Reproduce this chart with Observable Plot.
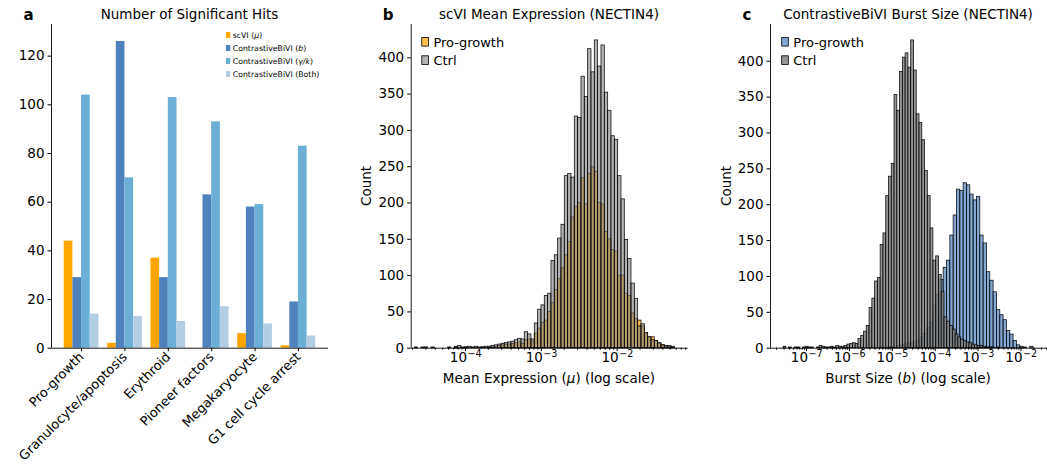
<!DOCTYPE html>
<html><head><meta charset="utf-8">
<script src="https://cdn.jsdelivr.net/npm/d3@7"></script>
<script src="https://cdn.jsdelivr.net/npm/@observablehq/plot@0.6"></script>
<style>
body{margin:0;background:#fff;font-family:"DejaVu Sans",sans-serif;}
#root{position:relative;width:1047px;height:469px;overflow:hidden;background:#fff;}
.panel{position:absolute;top:0;}
#overlay{position:absolute;left:0;top:0;pointer-events:none;}
</style></head>
<body><div id="root"></div>
<script>
// ---------- Panel a data ----------
const categories = ["Pro-growth","Granulocyte/apoptosis","Erythroid","Pioneer factors","Megakaryocyte","G1 cell cycle arrest"];
const seriesNames = ["scVI (μ)","ContrastiveBiVI (b)","ContrastiveBiVI (γ/k)","ContrastiveBiVI (Both)"];
const seriesColors = ["#ffa500","#4f81bd","#6baed6","#b3cde3"];
const hitsScvi     = [44, 2, 37, 0, 6, 1];
const hitsBiviB    = [29, 126, 29, 63, 58, 19];
const hitsBiviGk   = [104, 70, 103, 93, 59, 83];
const hitsBiviBoth = [14, 13, 11, 17, 10, 5];
const yTicksA = [0, 20, 40, 60, 80, 100, 120];

// ---------- Panel b data (log10 bin start, log10 bin width, counts) ----------
const binStartB = -4.669, binWidthB = 0.04397;
const countsProB = [0,0,0,0,0,0,0,0,0,0,0,0,1,0,0,1,0,0,0,0,1,0,1,1,2,3,4,5,5,6,7,8,
  6,11,12,9,20,27,35,38,50,62,80,95,110,128,146,180,195,200,234,198,240,249,243,200,198,160,150,135,133,100,100,75,72,48,40,38,
  30,20,15,15,10,6,4,2,2,1];
const countsCtrlB = [1,0,1,1,0,1,0,0,0,0,1,0,2,3,1,1,2,1,2,1,1,2,2,3,4,5,6,7,8,9,11,13,
  12,22,19,12,34,53,59,72,75,120,128,151,170,237,240,235,319,317,374,346,412,380,424,388,417,352,327,292,287,237,205,149,123,89,68,30,
  33,21,15,11,10,7,4,3,3,2];

// ---------- Panel c data ----------
const binStartCtrlC = -7.5356, binWidthCtrlC = 0.0647;
const countsCtrlC = [2,0,1,0,1,1,0,1,2,1,1,0,1,3,2,1,1,2,1,3,2,2,3,5,
  6,7,6,13,17,23,31,56,69,93,98,144,160,212,
  239,257,353,331,385,405,411,391,429,
  387,326,314,290,247,212,167,122,128,102,78,43,37,31,26,19,15,12,10,8,7,5,4,3,3,2,1,1,1,0,1];
const binStartProC = -5.2767, binWidthProC = 0.0776;
const countsProC = [1,0,1,2,2,3,4,5,6,8,8,10,14,20,28,36,59,75,95,112,122,157,185,221,219,230,227,214,206,211,
  157,146,106,94,78,53,46,39,24,19,10,4,2,1,0,2,0];
const yTicksHist = [0, 50, 100, 150, 200, 250, 300, 350, 400];
const majorB = [-4, -3, -2];
const majorC = [-7, -6, -5, -4, -3, -2];

// ---------- helpers ----------
const H = 469, MT = 24, MB = 469 - 347.7;
const FS = 13.5;
const FONT = {fontFamily: "DejaVu Sans", fontSize: FS + "px", background: "transparent", overflow: "visible", color: "black"};
const minorTicks = (lo, hi) => { const t = []; for (let e = lo; e <= hi; e++) for (let m = 2; m <= 9; m++) t.push(m * 10 ** e); return t; };
const toBins = (start, w, counts) => counts.map((c, i) => ({x1: 10 ** (start + i * w), x2: 10 ** (start + (i + 1) * w), count: c})).filter(d => d.count > 0);
const spine = {stroke: "black", strokeWidth: 0.9};
// log axis: minor ticks, major ticks, and "10" + superscript exponent labels
function logAxis(exps, lo, hi) {
  const majors = exps.map(e => ({v: 10 ** e, e}));
  return [
    Plot.axisX({ticks: minorTicks(Math.floor(Math.log10(lo)), Math.ceil(Math.log10(hi))).filter(v => v > lo && v < hi), tickSize: 2, tickFormat: () => "", label: null}),
    Plot.axisX({ticks: majors.map(d => d.v), tickSize: 3.5, tickFormat: () => "", label: null}),
    Plot.text(majors, {x: "v", text: () => "10", frameAnchor: "bottom", dy: 13.6, dx: 1.5, textAnchor: "end", fontSize: FS}),
    Plot.text(majors, {x: "v", text: d => "\u2212" + Math.abs(d.e), frameAnchor: "bottom", dy: 8.6, dx: 2, textAnchor: "start", fontSize: 9.6})
  ];
}

const root = document.getElementById("root");
function place(svg, left) { const d = document.createElement("div"); d.className = "panel"; d.style.left = left + "px"; d.appendChild(svg); root.appendChild(d); }

// ---------- Panel a ----------
{
  const width = 345, mL = 51, mR = 17, pIn = 0.2, pOut = 0.293, yMax = 133;
  const step = (width - mL - mR) / (categories.length - pIn + 2 * pOut);
  const bw = step * (1 - pIn), q = bw / 4;
  const all = [hitsScvi, hitsBiviB, hitsBiviGk, hitsBiviBoth];
  const marks = all.map((vals, j) => Plot.barY(categories.map((c, i) => ({cat: c, v: vals[i]})),
    {x: "cat", y: "v", fill: seriesColors[j], insetLeft: j * q, insetRight: (3 - j) * q}));
  const svg = Plot.plot({
    width, height: H, marginLeft: mL, marginRight: mR, marginTop: MT, marginBottom: MB,
    style: FONT,
    x: {type: "band", domain: categories, paddingInner: pIn, paddingOuter: pOut, align: 0.5, round: false},
    y: {domain: [0, yMax]},
    marks: [
      ...marks,
      Plot.ruleX([categories[0]], {y1: 0, y2: yMax, dx: -(step * pOut + bw / 2), ...spine}),
      Plot.ruleY([0], spine),
      Plot.axisY({ticks: yTicksA, tickSize: 3.5, tickPadding: 3.5, fontSize: FS, label: null}),
      Plot.axisX({tickRotate: -45, tickSize: 3.5, tickPadding: 3, fontSize: 13, label: null})
    ]
  });
  place(svg, 0);
}

// ---------- Panel b ----------
{
  const lo = 10 ** -4.716, hi = 10 ** -1.063, yMax = 445.9;
  const svg = Plot.plot({
    width: 355, height: H, marginLeft: 65.7, marginRight: 12.3, marginTop: MT, marginBottom: MB,
    style: FONT,
    x: {type: "log", domain: [lo, hi]},
    y: {domain: [0, yMax]},
    marks: [
      Plot.rectY(toBins(binStartB, binWidthB, countsProB), {x1: "x1", x2: "x2", y: "count", fill: "#ffa500", fillOpacity: 0.7, stroke: "black", strokeWidth: 0.8, strokeOpacity: 0.9}),
      Plot.rectY(toBins(binStartB, binWidthB, countsCtrlB), {x1: "x1", x2: "x2", y: "count", fill: "#808080", fillOpacity: 0.6, stroke: "black", strokeWidth: 0.8, strokeOpacity: 0.9}),
      Plot.ruleX([lo], {y1: 0, y2: yMax, ...spine}),
      Plot.ruleY([0], spine),
      Plot.axisY({ticks: yTicksHist, tickSize: 3.5, tickPadding: 3.5, fontSize: FS, label: null}),
      ...logAxis(majorB, lo, hi)
    ]
  });
  place(svg, 345);
}

// ---------- Panel c ----------
{
  const lo = 10 ** -7.839, hi = 10 ** -1.382, yMax = 451.2;
  const svg = Plot.plot({
    width: 347, height: H, marginLeft: 70, marginRight: 0, marginTop: MT, marginBottom: MB,
    style: FONT,
    x: {type: "log", domain: [lo, hi]},
    y: {domain: [0, yMax]},
    marks: [
      Plot.rectY(toBins(binStartProC, binWidthProC, countsProC), {x1: "x1", x2: "x2", y: "count", fill: "#4f81bd", fillOpacity: 0.7, stroke: "black", strokeWidth: 0.8, strokeOpacity: 0.9}),
      Plot.rectY(toBins(binStartCtrlC, binWidthCtrlC, countsCtrlC), {x1: "x1", x2: "x2", y: "count", fill: "#808080", fillOpacity: 0.85, stroke: "black", strokeWidth: 0.8, strokeOpacity: 0.9}),
      Plot.ruleX([lo], {y1: 0, y2: yMax, ...spine}),
      Plot.ruleY([0], spine),
      Plot.axisY({ticks: yTicksHist, tickSize: 3.5, tickPadding: 3.5, fontSize: FS, label: null}),
      ...logAxis(majorC, lo, hi)
    ]
  });
  place(svg, 700);
}

// ---------- Text overlay: titles, panel letters, axis labels, legends ----------
{
  const ov = d3.select(root).append("svg").attr("id", "overlay").attr("width", 1047).attr("height", 469)
    .style("font-family", "DejaVu Sans").style("fill", "black");
  const txt = (x, y, s, o = {}) => ov.append("text").attr("x", x).attr("y", y).attr("text-anchor", o.anchor || "start")
    .style("font-size", (o.size || FS) + "px").style("font-weight", o.bold ? "bold" : "normal").text(s);
  txt(28.5, 20, "a", {bold: true, size: 15, anchor: "middle"});
  txt(388, 20, "b", {bold: true, size: 15, anchor: "middle"});
  txt(747, 20, "c", {bold: true, size: 15, anchor: "middle"});
  txt(189.5, 19.3, "Number of Significant Hits", {anchor: "middle"});
  txt(549, 19.3, "scVI Mean Expression (NECTIN4)", {anchor: "middle"});
  txt(908, 19.3, "ContrastiveBiVI Burst Size (NECTIN4)", {anchor: "middle"});
  ov.append("text").attr("transform", "translate(370.5,186) rotate(-90)").attr("text-anchor", "middle").style("font-size", FS + "px").text("Count");
  ov.append("text").attr("transform", "translate(731,186) rotate(-90)").attr("text-anchor", "middle").style("font-size", FS + "px").text("Count");
  const xl = ov.append("text").attr("x", 549).attr("y", 383.3).attr("text-anchor", "middle").style("font-size", FS + "px");
  xl.append("tspan").text("Mean Expression (");
  xl.append("tspan").style("font-style", "italic").text("μ");
  xl.append("tspan").text(") (log scale)");
  const xl2 = ov.append("text").attr("x", 908).attr("y", 383.3).attr("text-anchor", "middle").style("font-size", FS + "px");
  xl2.append("tspan").text("Burst Size (");
  xl2.append("tspan").style("font-style", "italic").text("b");
  xl2.append("tspan").text(") (log scale)");
  const legA = [["scVI (", "μ", ")"], ["ContrastiveBiVI (", "b", ")"], ["ContrastiveBiVI (", "γ/k", ")"], ["ContrastiveBiVI (Both)", "", ""]];
  legA.forEach((parts, i) => {
    const cy = 35 + i * 13;
    ov.append("rect").attr("x", 226).attr("y", cy - 3).attr("width", 4.3).attr("height", 6).attr("fill", seriesColors[i]);
    const t = ov.append("text").attr("x", 232.7).attr("y", cy + 2.8).style("font-size", "7.8px");
    t.append("tspan").text(parts[0]);
    if (parts[1]) { t.append("tspan").style("font-style", "italic").text(parts[1]); t.append("tspan").text(parts[2]); }
  });
  const legH = (x, items) => items.forEach(([label, color, op], i) => {
    const y0 = 37.5 + i * 18.3;
    ov.append("rect").attr("x", x).attr("y", y0).attr("width", 6.6).attr("height", 8.6)
      .attr("fill", color).attr("fill-opacity", op).attr("stroke", "black").attr("stroke-width", 0.8);
    txt(x + 11.6, y0 + 9, label, {size: 13});
  });
  legH(421.8, [["Pro-growth", "#ffa500", 0.7], ["Ctrl", "#808080", 0.6]]);
  legH(781.7, [["Pro-growth", "#4f81bd", 0.7], ["Ctrl", "#808080", 0.85]]);
}
</script>
</body></html>
